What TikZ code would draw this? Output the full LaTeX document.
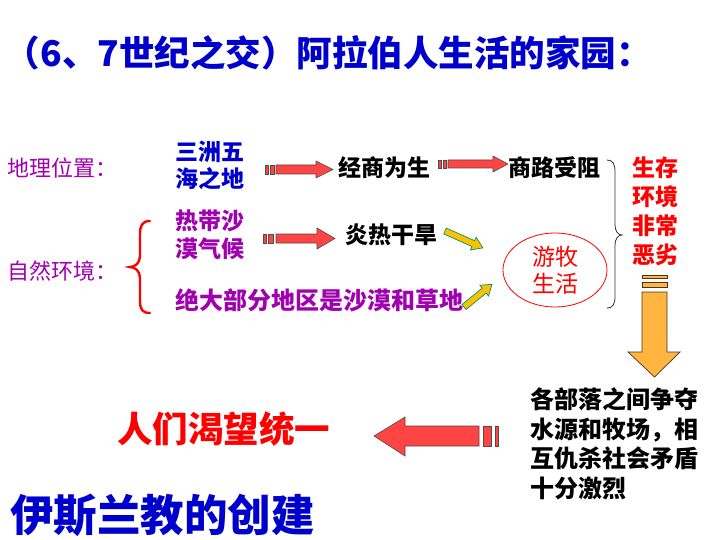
\documentclass[tikz,border=0pt]{standalone}
\usepackage{fontspec}
\setmainfont{Noto Sans CJK SC}
\usetikzlibrary{shapes.geometric}
\definecolor{tblue}{RGB}{0,0,204}
\definecolor{tpurple}{RGB}{160,0,176}
\definecolor{tred}{RGB}{255,0,0}
\definecolor{arrred}{RGB}{255,68,68}
\definecolor{arrorange}{RGB}{255,181,64}
\definecolor{arrgold}{RGB}{255,192,0}
\definecolor{arrgreen}{RGB}{0,150,110}
\begin{document}
\begin{tikzpicture}[x=1pt,y=-1pt,
  every node/.style={inner sep=0pt,outer sep=0pt},
  titletext/.style={font=\fontsize{35.5}{40}\selectfont\bfseries,text=tblue,anchor=west},
  lbltext/.style={font=\fontsize{22}{26}\selectfont,text=tpurple,anchor=west},
  bluebold/.style={font=\fontsize{23}{27}\selectfont\bfseries,text=tblue,anchor=west,align=left},
  purbold/.style={font=\fontsize{23}{28}\selectfont\bfseries,text=tpurple,anchor=west,align=left},
  blktext/.style={font=\fontsize{23}{28}\selectfont\bfseries,text=black,anchor=west},
  redbold/.style={font=\fontsize{23}{29}\selectfont\bfseries,text=tred,align=center},
  redarrow/.style={fill=arrred,draw=black!70,line width=0.6pt},
  orangearrow/.style={fill=arrorange,draw=black!60!brown,line width=0.7pt},
  goldarrow/.style={fill=arrgold,draw=arrgreen,line width=0.7pt},
]
\useasboundingbox[fill=white] (0,0) rectangle (720,540);

% title
\node[titletext] (title) at (5,53) {（6、7世纪之交）阿拉伯人生活的家园：};

% left labels
\node[lbltext] (geo) at (8,168) {地理位置：};
\node[lbltext] (nat) at (8,271) {自然环境：};

% red brace
\draw[tred,line width=2.4pt,line cap=round]
  (150,221) .. controls (142,221) and (140,226) .. (140,234) -- (140,256)
  .. controls (140,263) and (135,267) .. (130,267)
  .. controls (135,267) and (140,271) .. (140,278) -- (140,301)
  .. controls (140,309) and (142,313) .. (150,313);

% texts
\node[bluebold] (sz) at (175,165) {三洲五\\海之地};
\node[purbold] (rd) at (175,235) {热带沙\\漠气候};
\node[purbold,font=\fontsize{24}{28}\selectfont\bfseries] (jd) at (175,300) {绝大部分地区是沙漠和草地};
\node[blktext] (js) at (338,168) {经商为生};
\node[blktext] (sl) at (508,168) {商路受阻};
\node[blktext] (yr) at (345,235) {炎热干旱};
\node[ellipse,draw=tred,line width=0.8pt,minimum width=104pt,minimum height=74pt,
      font=\fontsize{23}{27}\selectfont,text=tred,align=center] (ym) at (555,270) {游牧\\生活};
\node[redbold] (sc) at (655,211) {生存\\环境\\非常\\恶劣};
\node[font=\fontsize{24}{29.5}\selectfont\bfseries,anchor=west,align=left] (bl) at (530,444)
  {各部落之间争夺\\水源和牧场，相\\互仇杀社会矛盾\\十分激烈};
\node[font=\fontsize{35.5}{40}\selectfont\bfseries,text=tred,anchor=west] (rw) at (117,429) {人们渴望统一};
\node[font=\fontsize{43.5}{48}\selectfont\bfseries,text=tblue,anchor=west] (ys) at (10,515) {伊斯兰教的创建};

% black brace
\draw[black!80,line width=0.8pt]
  (607,160) .. controls (613,160) and (615,164) .. (615,172) -- (615,225)
  .. controls (615,231) and (618,235) .. (622,235)
  .. controls (618,235) and (615,239) .. (615,245) -- (615,296)
  .. controls (615,304) and (613,308) .. (607,308);

% red arrow 1
\draw[redarrow] (265,165) rectangle (268,174);
\draw[redarrow] (270,165) rectangle (274,174);
\draw[redarrow] (276,165) -- (316,165) -- (316,161) -- (333,169.5) -- (316,178) -- (316,174) -- (276,174) -- cycle;
% red arrow 2
\draw[redarrow] (438,160) rectangle (441,168);
\draw[redarrow] (443,160) rectangle (446,168);
\draw[redarrow] (448,160) -- (493,160) -- (493,156) -- (508,164) -- (493,172) -- (493,168) -- (448,168) -- cycle;
% red arrow 3
\draw[redarrow] (263,234) rectangle (266,243);
\draw[redarrow] (268,234) rectangle (273,243);
\draw[redarrow] (276,234) -- (317,234) -- (317,228) -- (335,238.5) -- (317,249) -- (317,243) -- (276,243) -- cycle;

% gold arrows
\begin{scope}[shift={(445,231)},rotate=-24]
\draw[goldarrow] (0,-3.2) -- (31,-3.2) -- (31,-7) -- (41.5,0) -- (31,7) -- (31,3.2) -- (0,3.2) -- cycle;
\end{scope}
\begin{scope}[shift={(464,307)},rotate=39]
\draw[goldarrow] (0,-3.2) -- (26,-3.2) -- (26,-7) -- (36,0) -- (26,7) -- (26,3.2) -- (0,3.2) -- cycle;
\end{scope}

% orange down arrow
\draw[orangearrow] (642,275) rectangle (667,278);
\draw[orangearrow] (642,282) rectangle (667,287);
\draw[orangearrow] (642,292) -- (642,352) -- (628,352) -- (654.5,377) -- (680,352) -- (667,352) -- (667,292) -- cycle;

% red left arrow
\draw[redarrow] (483,426) rectangle (491,446);
\draw[redarrow] (495,426) rectangle (498,446);
\draw[redarrow] (479,426) -- (405,426) -- (405,417) -- (374,436) -- (405,456) -- (405,446) -- (479,446) -- cycle;
\end{tikzpicture}
\end{document}
